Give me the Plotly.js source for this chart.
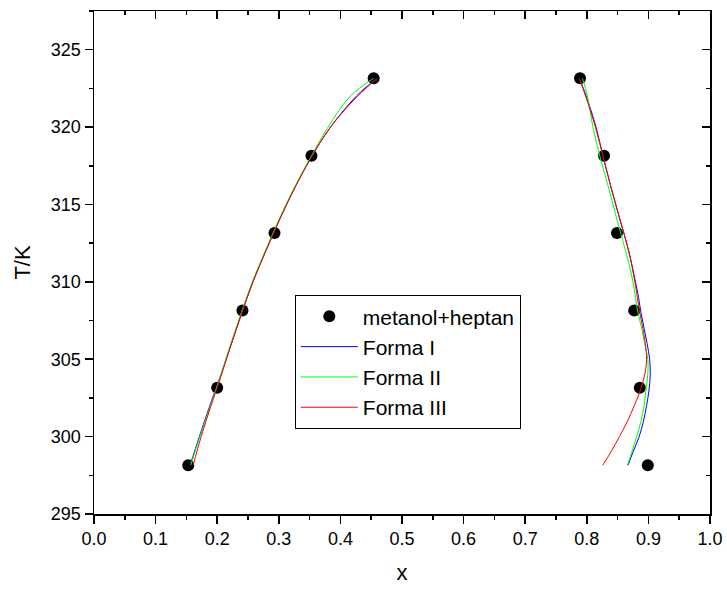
<!DOCTYPE html>
<html>
<head>
<meta charset="utf-8">
<script src="https://cdn.plot.ly/plotly-3.0.1.min.js"></script>
<style>html,body{margin:0;padding:0;background:#fff;}#chart{width:727px;height:589px;}</style>
</head>
<body>
<div id="chart"></div>
<script>
// Experimental points (metanol+heptan)
const expX = [0.153, 0.200, 0.241, 0.293, 0.353, 0.454, 0.789, 0.828, 0.849, 0.877, 0.886, 0.899];
const expT = [298.15, 303.15, 308.15, 313.15, 318.15, 323.15, 323.15, 318.15, 313.15, 308.15, 303.15, 298.15];

// Left branch temperatures
const leftT = [298.15, 300, 302, 304, 306, 308, 310, 312, 314, 316, 318, 320, 322, 323.15];
const formaI_leftX   = [0.156, 0.171, 0.188, 0.206, 0.223, 0.240, 0.258, 0.279, 0.301, 0.325, 0.352, 0.384, 0.426, 0.459];
const formaII_leftX  = [0.157, 0.172, 0.189, 0.206, 0.222, 0.239, 0.257, 0.278, 0.300, 0.324, 0.351, 0.380, 0.416, 0.454];
const formaIII_leftX = [0.161, 0.174, 0.190, 0.207, 0.223, 0.240, 0.258, 0.279, 0.301, 0.325, 0.352, 0.384, 0.428, 0.460];

// Right branch temperatures
const rightT = [298.15, 299, 300, 301, 302, 303, 304, 305, 306, 307, 308, 309, 310, 312, 314, 316, 318, 320, 322, 323.15];
const formaI_rightX   = [0.867, 0.875, 0.885, 0.892, 0.897, 0.901, 0.903, 0.902, 0.898, 0.893, 0.888, 0.884, 0.879, 0.868, 0.854, 0.840, 0.827, 0.815, 0.799, 0.788];
const formaII_rightX  = [0.866, 0.873, 0.881, 0.888, 0.893, 0.896, 0.899, 0.899, 0.894, 0.889, 0.883, 0.879, 0.875, 0.863, 0.849, 0.836, 0.822, 0.810, 0.801, 0.793];
const formaIII_rightX = [0.826, 0.839, 0.853, 0.866, 0.877, 0.887, 0.894, 0.897, 0.895, 0.891, 0.886, 0.882, 0.878, 0.868, 0.854, 0.840, 0.827, 0.814, 0.798, 0.788];

const names = ['metanol+heptan', 'Forma I', 'Forma II', 'Forma III'];
const colors = ['#000000', '#0000ff', '#00ff00', '#ff0000'];

const FONT = 'Liberation Sans, Arial, sans-serif';

function curve(x, y, i, show) {
  return {
    x: x, y: y, mode: 'lines', type: 'scatter', name: names[i],
    legendgroup: names[i], showlegend: show,
    line: {color: colors[i], width: 1, shape: 'spline', smoothing: 1},
    hoverinfo: 'skip'
  };
}

const traces = [
  {x: expX, y: expT, mode: 'markers', type: 'scatter', name: names[0],
   marker: {color: colors[0], size: 12, symbol: 'circle'}},
  curve(formaI_leftX, leftT, 1, true),
  curve(formaI_rightX, rightT, 1, false),
  curve(formaII_leftX, leftT, 2, true),
  curve(formaII_rightX, rightT, 2, false),
  curve(formaIII_leftX, leftT, 3, true),
  curve(formaIII_rightX, rightT, 3, false),
  {x: [null], y: [null], xaxis: 'x2', yaxis: 'y2', mode: 'markers', showlegend: false, hoverinfo: 'skip'}
];

const axCommon = {
  showgrid: false, zeroline: false, showline: true, linecolor: '#000', linewidth: 1.5,
  tickcolor: '#000', tickwidth: 1.5, ticklen: 8
};

const layout = {
  width: 727, height: 589,
  margin: {l: 94, r: 17, t: 11, b: 75},
  paper_bgcolor: '#fff', plot_bgcolor: '#fff',
  font: {family: FONT, size: 18, color: '#000'},
  showlegend: true,
  legend: {
    x: 0.326, y: 0.435, xanchor: 'left', yanchor: 'top',
    bordercolor: '#000', borderwidth: 1, bgcolor: '#fff',
    font: {family: FONT, size: 21, color: '#000'},
    itemwidth: 57,
    tracegroupgap: 0
  },
  xaxis: Object.assign({}, axCommon, {
    range: [0, 1], dtick: 0.1, tick0: 0, tickformat: '.1f', ticks: 'outside',
    minor: {dtick: 0.05, ticks: 'outside', ticklen: 4, tickcolor: '#000', tickwidth: 1.5},
    title: {text: 'x', font: {family: FONT, size: 22}, standoff: 16}
  }),
  yaxis: Object.assign({}, axCommon, {
    range: [295, 327.5], dtick: 5, tick0: 295, ticks: 'outside',
    minor: {dtick: 2.5, ticks: 'outside', ticklen: 4, tickcolor: '#000', tickwidth: 1.5},
    title: {text: 'T/K', font: {family: FONT, size: 22}, standoff: 14}
  }),
  xaxis2: Object.assign({}, axCommon, {
    overlaying: 'x', side: 'top', anchor: 'y', range: [0, 1], dtick: 0.1, tick0: 0,
    ticks: 'inside', showticklabels: false,
    minor: {dtick: 0.05, ticks: 'inside', ticklen: 4, tickcolor: '#000', tickwidth: 1.5}
  }),
  yaxis2: Object.assign({}, axCommon, {
    overlaying: 'y', side: 'right', anchor: 'x', range: [295, 327.5], dtick: 5, tick0: 295,
    ticks: 'inside', showticklabels: false,
    minor: {dtick: 2.5, ticks: 'inside', ticklen: 4, tickcolor: '#000', tickwidth: 1.5}
  })
};

Plotly.newPlot('chart', traces, layout, {staticPlot: true, displayModeBar: false});
</script>
</body>
</html>
